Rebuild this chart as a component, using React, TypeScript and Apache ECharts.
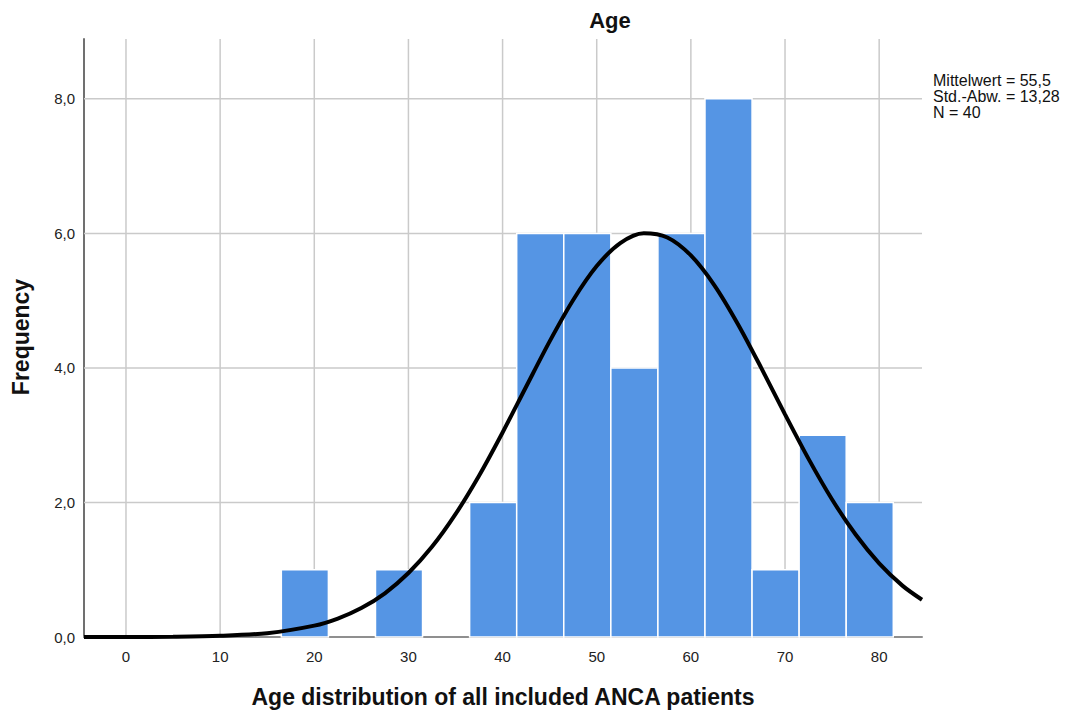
import React, { useEffect, useRef } from "react";
import * as echarts from "echarts";

// Histogram bins (age, width 5) and frequencies
const binStarts = [16.5, 26.5, 36.5, 41.5, 46.5, 51.5, 56.5, 61.5, 66.5, 71.5, 76.5];
const frequencies = [1, 1, 2, 6, 6, 4, 6, 8, 1, 3, 2];
const binWidth = 5;

// Normal curve
const curveX = [-4.46, 0, 5, 10, 15, 20, 22.5, 25, 27.5, 30, 32.5, 35, 37.5, 40, 42.5, 45, 47.5, 50, 52.5, 55, 57.5, 60, 62.5, 65, 67.5, 70, 72.5, 75, 77.5, 80, 82.5, 84.55];
const curveY = [0.0003, 0.001, 0.004, 0.017, 0.057, 0.169, 0.274, 0.43, 0.65, 0.951, 1.34, 1.826, 2.397, 3.04, 3.72, 4.395, 5.01, 5.514, 5.857, 6.004, 5.94, 5.673, 5.229, 4.651, 3.994, 3.31, 2.648, 2.044, 1.523, 1.095, 0.76, 0.554];

const xTicks = [0, 10, 20, 30, 40, 50, 60, 70, 80];
const yTicks = [0, 2, 4, 6, 8];
const xMin = -4.46;
const xMax = 84.55;
const yMax = 8.89;

const statsLines = ["Mittelwert = 55,5", "Std.-Abw. = 13,28", "N = 40"];
const titleText = "Age";
const xName = "Age distribution of all included ANCA patients";
const yName = "Frequency";

const FONT = "'Liberation Sans', Arial, Helvetica, sans-serif";

export default function App() {
  const ref = useRef<HTMLDivElement>(null);

  useEffect(() => {
    if (!ref.current) return;
    const chart = echarts.init(ref.current, undefined, { renderer: "svg" });

    const gridColor = "#cacaca";
    const gridSeries: any[] = [];
    xTicks.forEach((t) => {
      gridSeries.push({
        type: "line",
        data: [[t, 0], [t, yMax]],
        symbol: "none",
        silent: true,
        z: 1,
        lineStyle: { color: gridColor, width: 1.5 },
      });
    });
    yTicks
      .filter((t) => t > 0)
      .forEach((t) => {
        gridSeries.push({
          type: "line",
          data: [[xMin, t], [xMax, t]],
          symbol: "none",
          silent: true,
          z: 1,
          lineStyle: { color: gridColor, width: 1.5 },
        });
      });

    const option: any = {
      animation: false,
      backgroundColor: "#ffffff",
      grid: { left: 84, right: 146, top: 39, bottom: 74, containLabel: false },
      xAxis: {
        type: "value",
        min: xMin,
        max: xMax,
        splitNumber: 9,
        splitLine: { show: false },
        axisTick: { show: false },
        axisLine: { show: true, onZero: false, lineStyle: { color: "#8f8f8f", width: 2 } },
        axisLabel: {
          fontSize: 15,
          fontFamily: FONT,
          color: "#222",
          margin: 12,
          formatter: (v: number) => (xTicks.includes(v) ? String(v) : ""),
        },
      },
      yAxis: {
        type: "value",
        min: 0,
        max: yMax,
        interval: 2,
        splitLine: { show: false },
        axisTick: { show: false },
        axisLine: { show: true, onZero: false, lineStyle: { color: "#707070", width: 2 } },
        axisLabel: {
          fontSize: 15,
          fontFamily: FONT,
          color: "#222",
          margin: 9,
          formatter: (v: number) => (yTicks.includes(v) ? v.toFixed(1).replace(".", ",") : ""),
        },
      },
      graphic: [
        {
          type: "text",
          x: 610,
          y: 20,
          style: {
            text: titleText,
            font: `bold 22px ${FONT}`,
            fill: "#111",
            textAlign: "center",
            textVerticalAlign: "middle",
          },
        },
        {
          type: "text",
          x: 503,
          y: 697,
          style: {
            text: xName,
            font: `bold 23px ${FONT}`,
            fill: "#111",
            textAlign: "center",
            textVerticalAlign: "middle",
          },
        },
        {
          type: "text",
          x: 21,
          y: 337,
          rotation: Math.PI / 2,
          style: {
            text: yName,
            font: `bold 23px ${FONT}`,
            fill: "#111",
            textAlign: "center",
            textVerticalAlign: "middle",
          },
        },
        ...statsLines.map((s, i) => ({
          type: "text",
          x: 933,
          y: 80 + i * 16,
          style: {
            text: s,
            font: `16px ${FONT}`,
            fill: "#111",
            textAlign: "left",
            textVerticalAlign: "middle",
          },
        })),
      ],
      series: [
        ...gridSeries,
        {
          type: "custom",
          z: 2,
          silent: true,
          data: binStarts.map((s, i) => [s, s + binWidth, frequencies[i]]),
          encode: { x: [0, 1], y: 2 },
          renderItem: (params: any, api: any) => {
            const x0 = api.value(0);
            const x1 = api.value(1);
            const v = api.value(2);
            const p0 = api.coord([x0, 0]);
            const p1 = api.coord([x1, v]);
            return {
              type: "rect",
              shape: { x: p0[0], y: p1[1], width: p1[0] - p0[0], height: p0[1] - p1[1] },
              style: { fill: "#5595e4", stroke: "#ffffff", lineWidth: 1.5 },
            };
          },
        },
        {
          type: "line",
          z: 3,
          silent: true,
          smooth: 0.3,
          symbol: "none",
          data: curveX.map((x, i) => [x, curveY[i]]),
          lineStyle: { color: "#000000", width: 4 },
        },
      ],
    };

    chart.setOption(option);
    return () => chart.dispose();
  }, []);

  return (
    <div
      ref={ref}
      style={{ position: "absolute", left: 0, top: 0, width: 1068, height: 711, background: "#fff" }}
    />
  );
}
